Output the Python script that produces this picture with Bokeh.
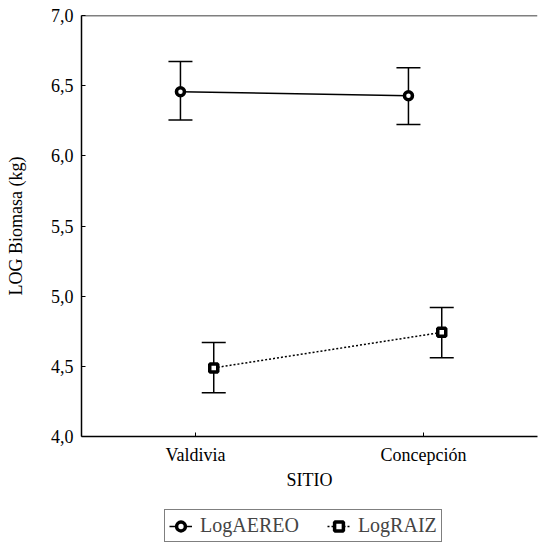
from bokeh.plotting import figure
from bokeh.layouts import column
from bokeh.models import (FixedTicker, LinearAxis, Range1d, Whisker, TeeHead,
                          ColumnDataSource, Legend, LegendItem, Span)
from bokeh.embed import file_html
from bokeh.resources import INLINE

# ---- data ----
sites = ["Valdivia", "Concepción"]
site_pos = [1, 2]
aereo_mean = [6.457, 6.428]
aereo_lower = [6.255, 6.224]
aereo_upper = [6.672, 6.628]
raiz_mean = [4.489, 4.742]
raiz_lower = [4.311, 4.562]
raiz_upper = [4.669, 4.920]
y_ticks = [4.0, 4.5, 5.0, 5.5, 6.0, 6.5, 7.0]
y_tick_labels = ["4,0", "4,5", "5,0", "5,5", "6,0", "6,5", "7,0"]
series_names = ["LogAEREO", "LogRAIZ"]

FONT = "Liberation Serif"
aereo_off = -0.066
raiz_off = 0.08

p = figure(width=538, height=496, output_backend="svg", toolbar_location=None,
           x_range=Range1d(0.5, 2.5), y_range=Range1d(4.0, 7.0),
           min_border_left=81, min_border_top=15, min_border_right=1,
           min_border_bottom=60, x_axis_location=None, y_axis_location=None)
p.outline_line_color = None
p.grid.visible = False
p.background_fill_color = "white"
p.border_fill_color = "white"

# left axis
yax = LinearAxis(ticker=FixedTicker(ticks=y_ticks),
                 major_label_overrides={t: l for t, l in zip(y_ticks, y_tick_labels)},
                 axis_label="LOG Biomasa (kg)")
# bottom axis
xax = LinearAxis(ticker=FixedTicker(ticks=site_pos),
                 major_label_overrides={pos: s for pos, s in zip(site_pos, sites)},
                 axis_label="SITIO")
for ax in (yax, xax):
    ax.major_tick_in = 4
    ax.major_tick_out = 0
    ax.minor_tick_line_color = None
    ax.axis_line_color = "black"
    ax.axis_line_width = 1.5
    ax.major_tick_line_color = "black"
    ax.major_label_text_font = FONT
    ax.major_label_text_font_size = "18px"
    ax.major_label_text_color = "black"
    ax.axis_label_text_font = FONT
    ax.axis_label_text_font_size = "18px"
    ax.axis_label_text_font_style = "normal"
    ax.axis_label_text_color = "black"
yax.major_label_standoff = 8
yax.axis_label_standoff = 22
xax.major_label_standoff = 8
xax.axis_label_standoff = 2
p.add_layout(yax, "left")
p.add_layout(xax, "below")

# top frame line
p.add_layout(Span(location=p.y_range.end, dimension="width",
                  line_color="black", line_width=1.5))

line_dashes = ["solid", "2 2"]
markers = ["circle", "square"]

# AEREO
xa = [x + aereo_off for x in site_pos]
src_a = ColumnDataSource(dict(x=xa, y=aereo_mean, lo=aereo_lower, hi=aereo_upper))
p.add_layout(Whisker(source=src_a, base="x", lower="lo", upper="hi",
                     line_color="black", line_width=1.5,
                     upper_head=TeeHead(size=24, line_color="black", line_width=1.5),
                     lower_head=TeeHead(size=24, line_color="black", line_width=1.5)))
p.line("x", "y", source=src_a, line_color="black", line_width=1.5)
p.scatter("x", "y", source=src_a, marker="circle", size=8,
          fill_color="white", line_color="black", line_width=3.5)

# RAIZ
xr = [x + raiz_off for x in site_pos]
src_r = ColumnDataSource(dict(x=xr, y=raiz_mean, lo=raiz_lower, hi=raiz_upper))
p.add_layout(Whisker(source=src_r, base="x", lower="lo", upper="hi",
                     line_color="black", line_width=1.5,
                     upper_head=TeeHead(size=24, line_color="black", line_width=1.5),
                     lower_head=TeeHead(size=24, line_color="black", line_width=1.5)))
p.line("x", "y", source=src_r, line_color="black", line_width=1.5,
       line_dash="2 2")
p.scatter("x", "y", source=src_r, marker="square", size=8,
          fill_color="white", line_color="black", line_width=3.5)

# legend strip below the chart (its renderers reuse the series data, which
# lies outside this strip's visible range, so only the legend shows)
lf = figure(width=538, height=48, output_backend="svg", toolbar_location=None,
            x_range=Range1d(0, 1), y_range=Range1d(0, 1),
            min_border_left=0, min_border_right=0, min_border_top=0,
            min_border_bottom=0, x_axis_location=None, y_axis_location=None)
lf.outline_line_color = None
lf.grid.visible = False
items = []
for name, dash, mk, src in zip(series_names, line_dashes, markers, [src_a, src_r]):
    r1 = lf.line("x", "y", source=src, line_color="black", line_width=1.5,
                 line_dash=dash)
    r2 = lf.scatter("x", "y", source=src, marker=mk, size=8,
                    fill_color="white", line_color="black", line_width=3.5)
    items.append(LegendItem(label=name, renderers=[r1, r2]))
legend = Legend(items=items, orientation="horizontal", location=(83, 2),
                label_text_font=FONT, label_text_font_size="20px",
                label_height=22, glyph_height=22,
                border_line_color="black", border_line_width=1.5,
                glyph_width=23, spacing=28, padding=4, margin=0,
                label_standoff=8)
lf.add_layout(legend, "center")

layout = column(p, lf, spacing=0)
open("out.html", "w").write(file_html(layout, INLINE))
